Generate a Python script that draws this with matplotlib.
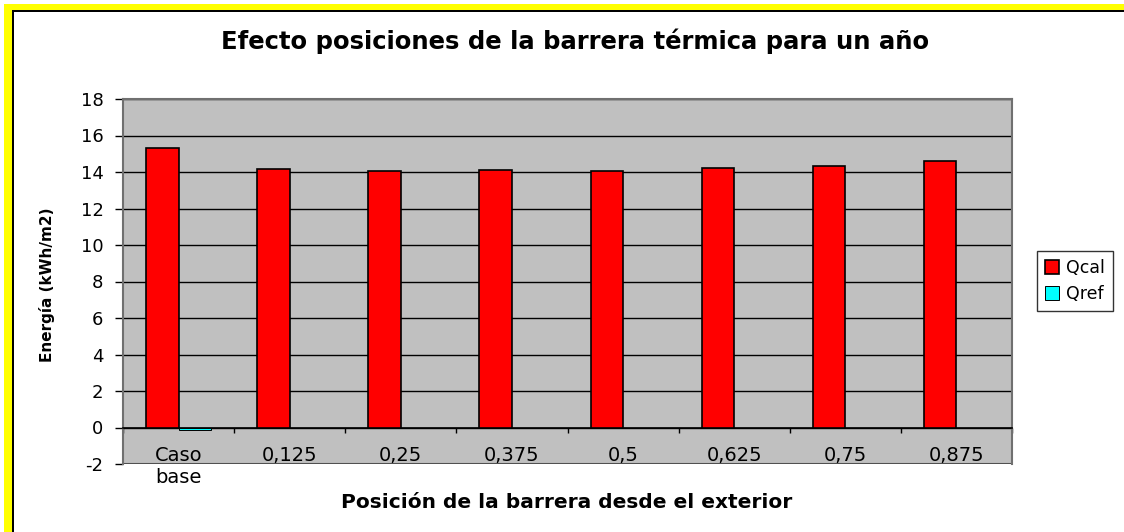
import matplotlib
matplotlib.use('Agg')
import matplotlib.pyplot as plt
from matplotlib.patches import Rectangle
import numpy as np

# data
categories = ['Caso\nbase', '0,125', '0,25', '0,375', '0,5', '0,625', '0,75', '0,875']
qcal = [15.34, 14.15, 14.03, 14.10, 14.03, 14.23, 14.32, 14.62]
qref = [-0.13, 0, 0, 0, 0, 0, 0, 0]
yticks = list(range(-2, 19, 2))

W, H = 1124, 532
fig = plt.figure(figsize=(W / 100, H / 100), dpi=100)
fig.patch.set_facecolor('white')

# yellow frame (only top and left visible in the crop)
def px_rect(x0, y0, x1, y1, color):
    fig.patches.append(Rectangle((x0 / W, 1 - y1 / H), (x1 - x0) / W, (y1 - y0) / H,
                                 transform=fig.transFigure, facecolor=color,
                                 edgecolor='none', zorder=0))

px_rect(4, 4, W, 10, '#FFFF00')
px_rect(4, 4, 12, H, '#FFFF00')
px_rect(12, 10, W, 11.5, '#000000')
px_rect(12, 10, 13.5, H, '#000000')

ax = fig.add_axes([123 / W, 1 - 464 / H, (1012 - 123) / W, (464 - 99) / H])
ax.set_facecolor('#C0C0C0')

# move the category axis to y=0 first (this resets the ticks)
ax.spines['bottom'].set_position(('data', 0))
ax.spines['bottom'].set_color('black')
ax.spines['bottom'].set_linewidth(1.2)
for s in ['top', 'right', 'left']:
    ax.spines[s].set_color('#707070')
    ax.spines[s].set_linewidth(1.5)

x = np.arange(len(categories))
bw = 0.293
ax.bar(x - bw / 2, qcal, width=bw, color='#FF0000', edgecolor='black', linewidth=1.2,
       label='Qcal', zorder=3)
ax.bar(x + bw / 2, qref, width=bw, color='#00FFFF', edgecolor='black',
       linewidth=[0.7 if v != 0 else 0 for v in qref], label='Qref', zorder=3)

ax.set_xlim(-0.5, len(categories) - 0.5)
ax.set_ylim(-2, 18)
ax.set_yticks(yticks)
ax.set_yticklabels([str(v) for v in yticks])
ax.yaxis.grid(True, color='black', linewidth=1.0, zorder=1)
ax.set_axisbelow(True)
ax.tick_params(axis='y', direction='out', length=6, width=1, color='black', pad=8,
               labelsize=13)
ax.axhline(-2, color='#505050', linewidth=1.5, zorder=2)

# category labels centred, tick marks on category boundaries
ax.set_xticks(x)
ax.set_xticklabels(categories)
ax.set_xticks(np.arange(-0.5, len(categories), 1), minor=True)
ax.tick_params(axis='x', which='major', length=0, pad=13, labelsize=14)
ax.tick_params(axis='x', which='minor', direction='out', length=3.5, width=1, color='black')

fig.text(575 / W, 1 - 41 / H, 'Efecto posiciones de la barrera térmica para un año',
         ha='center', va='center', fontsize=17.5, fontweight='bold')
fig.text(567 / W, 1 - 502 / H, 'Posición de la barrera desde el exterior',
         ha='center', va='center', fontsize=14.5, fontweight='bold')
fig.text(47 / W, 1 - 285 / H, 'Energía (kWh/m2)', rotation=90,
         ha='center', va='center', fontsize=11, fontweight='bold')

leg = fig.legend(loc='center', bbox_to_anchor=(1075 / W, 1 - 281 / H), fontsize=12.5,
                 frameon=True, fancybox=False, edgecolor='black', handlelength=0.8,
                 handleheight=0.8, handletextpad=0.4, borderpad=0.45, labelspacing=0.45)
leg.get_frame().set_linewidth(1.0)

fig.savefig('out.png', dpi=100)
